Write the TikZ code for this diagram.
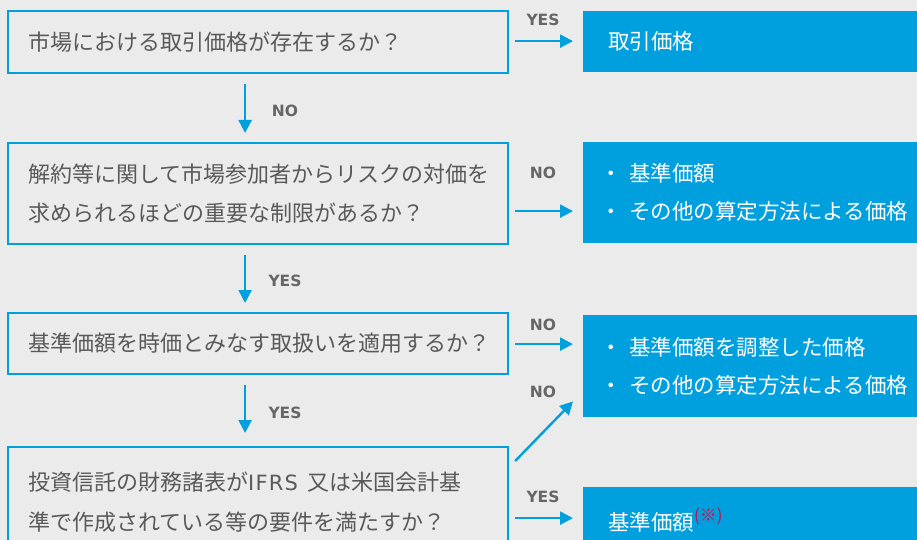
\documentclass[tikz,border=0pt]{standalone}
\usepackage{fontspec}
\setmainfont{Noto Sans CJK JP}
\newfontfamily\labfont{DejaVu Sans}
\newfontfamily\ifrsfont[LetterSpace=6]{DejaVu Sans}
\usetikzlibrary{arrows.meta,calc}
\definecolor{bg}{HTML}{EBEBEB}
\definecolor{myblue}{HTML}{009FDE}
\definecolor{txtgray}{HTML}{595959}
\definecolor{labgray}{HTML}{666666}
\definecolor{notered}{HTML}{C8104E}
\newcommand{\bul}{\makebox[21pt][l]{\hspace{-8pt}・}}
\tikzset{
  qbox/.style={draw=myblue, line width=2.2pt, fill=bg, anchor=north west,
    minimum width=500pt, inner xsep=20pt, inner ysep=0pt, align=left,
    text=txtgray, font=\fontsize{22}{39}\selectfont, text width=460pt},
  abox/.style={fill=myblue, draw=none, anchor=north west,
    minimum width=360pt, inner xsep=22pt, inner ysep=0pt, align=left,
    text=white, font=\fontsize{21.5}{38}\selectfont, text width=310pt},
  arr/.style={draw=myblue, line width=2.4pt, -{Triangle[length=13pt,width=13pt]}},
  lab/.style={text=labgray, font=\labfont\bfseries\fontsize{15.5}{16}\selectfont, inner sep=0pt}
}
\begin{document}
\begin{tikzpicture}[x=1pt,y=-1pt]
\fill[bg] (0,0) rectangle (917,540);
\useasboundingbox (0,0) rectangle (917,540);
\clip (0,0) rectangle (917,540);
% question boxes
\node[qbox, minimum height=62pt] (b1) at (7,10) {\raisebox{-2pt}{市場における取引価格が存在するか？}};
\node[qbox, minimum height=101pt] (b2) at (7,142) {\raisebox{-2pt}{解約等に関して市場参加者からリスクの対価を}\\[0pt]\raisebox{-2pt}{求められるほどの重要な制限があるか？}};
\node[qbox, minimum height=61pt] (b3) at (7,312) {基準価額を時価とみなす取扱いを適用するか？};
\node[qbox, minimum height=110pt] (b4) at (7,446) {投資信託の財務諸表が{\ifrsfont\fontsize{21}{21}\selectfont IFRS}\hspace{9pt}又は米国会計基\\[1pt]準で作成されている等の要件を満たすか？};
% answer boxes
\node[abox, minimum height=61pt] (r1) at (583,11) {\raisebox{-3pt}{取引価格}};
\node[abox, minimum height=101pt, inner xsep=25pt] (r2) at (583,142) {\raisebox{-2pt}{\bul 基準価額}\\[0pt]\raisebox{-2pt}{\bul その他の算定方法による価格}};
\node[abox, minimum height=102pt, inner xsep=25pt] (r3) at (583,315) {\bul 基準価額を調整した価格\\[0pt]\bul その他の算定方法による価格};
\node[abox, minimum height=66pt] (r4) at (583,487) {基準価額\raisebox{9pt}{\textcolor{notered}{\fontsize{17}{17}\selectfont (※)}}};
% vertical arrows
\draw[arr] ([xshift=-13pt,yshift=-10pt]b1.south) -- ([xshift=-13pt,yshift=9pt]b2.north);
\draw[arr] ([xshift=-13pt,yshift=-10pt]b2.south) -- ([xshift=-13pt,yshift=9pt]b3.north);
\draw[arr] ([xshift=-13pt,yshift=-10pt]b3.south) -- ([xshift=-13pt,yshift=13pt]b4.north);
% horizontal arrows
\coordinate (s1) at ($(b1.east)+(6,-1)$);
\draw[arr] (s1) -- ($(s1 -| r1.west)+(-10,0)$);
\coordinate (s2) at ($(b2.east)+(6,17.5)$);
\draw[arr] (s2) -- ($(s2 -| r2.west)+(-10,0)$);
\coordinate (s3) at ($(b3.east)+(6,0.5)$);
\draw[arr] (s3) -- ($(s3 -| r3.west)+(-10,0)$);
\draw[arr] ($(b4.north east)+(6,15)$) -- ($(r3.south west)+(-10,-16)$);
\coordinate (s5) at ($(b4.east)+(6,16)$);
\draw[arr] (s5) -- ($(s5 -| r4.west)+(-10,0)$);
% labels
\node[lab] (l1) at (543,20) {YES};
\node[lab] (l2) at (285,111) {NO};
\node[lab] (l3) at (285,281) {YES};
\node[lab] (l4) at (285,413) {YES};
\node[lab] (l5) at (543,173) {NO};
\node[lab] (l6) at (543,325) {NO};
\node[lab] (l7) at (543,392) {NO};
\node[lab] (l8) at (543,497) {YES};
\end{tikzpicture}
\end{document}
